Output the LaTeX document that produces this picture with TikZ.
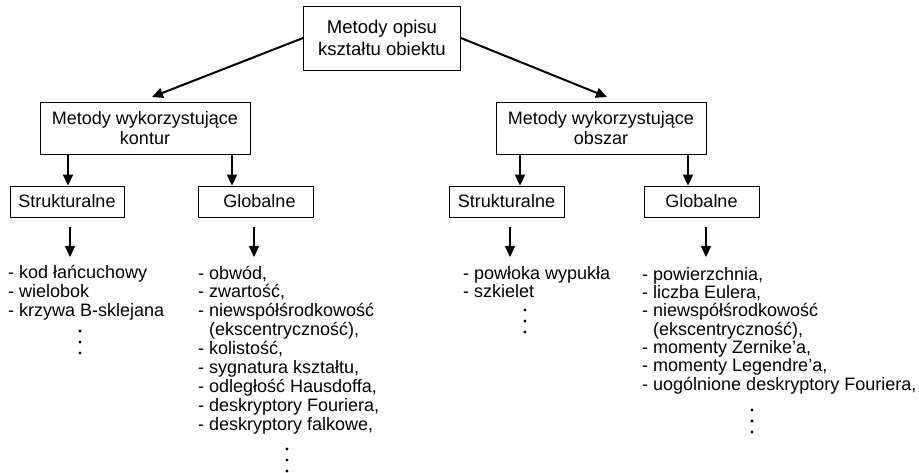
\documentclass[tikz,border=0pt]{standalone}
\usepackage{fontspec}
\setmainfont{Liberation Sans}
\usetikzlibrary{arrows.meta}
\begin{document}
\begin{tikzpicture}[x=1pt,y=-1pt,
  box/.style={draw,line width=0.9pt,align=center,inner sep=0pt,font=\fontsize{18}{20}\selectfont},
  arr/.style={line width=2pt,-{Triangle[width=10pt,length=11pt]}},
  lst/.style={align=left,inner sep=0pt,anchor=base west,font=\fontsize{18}{18.9}\selectfont},
  dot/.style={circle,fill,inner sep=0pt,minimum size=3.2pt}]
\useasboundingbox (0,0) rectangle (919,473);
% top level
\node[box,minimum width=157,minimum height=64,font=\fontsize{18.5}{22}\selectfont] (top) at (382,38) {Metody opisu\\kształtu obiektu};
% second level
\node[box,minimum width=210,minimum height=52] (kontur) at (145,128) {Metody wykorzystujące\\kontur};
\node[box,minimum width=210,minimum height=52] (obszar) at (601,128) {Metody wykorzystujące\\obszar};
% third level
\node[box,minimum width=114,minimum height=31] (ks) at (67,201.5) {Strukturalne};
\node[box,minimum width=115,minimum height=31] (kg) at (255.5,201.5) {\hspace{8pt}Globalne};
\node[box,minimum width=115,minimum height=31] (os) at (506.5,201.5) {Strukturalne};
\node[box,minimum width=115,minimum height=31] (og) at (701.5,201.5) {Globalne};
% connectors between levels
\coordinate (kin) at (152,97);
\coordinate (oin) at (607,97);
\draw[arr] (top.west) -- (kin);
\draw[arr] (top.east) -- (oin);
\draw[arr] (kontur.south -| 68,0) -- (ks.north -| 68,0);
\draw[arr] (kontur.south -| 232,0) -- (kg.north -| 232,0);
\draw[arr] (obszar.south -| 520,0) -- (os.north -| 520,0);
\draw[arr] (obszar.south -| 688,0) -- (og.north -| 688,0);
% lists of descriptors (anchored at the baseline of the last line)
\node[lst] (l1) at (8,316.8) {- kod łańcuchowy\\- wielobok\\- krzywa B-sklejana};
\node[lst] (l2) at (198,430.2) {- obwód,\\- zwartość,\\- niewspółśrodkowość\\\phantom{-}~(ekscentryczność),\\- kolistość,\\- sygnatura kształtu,\\- odległość Hausdoffa,\\- deskryptory Fouriera,\\- deskryptory falkowe,};
\node[lst] (l3) at (463,297.9) {- powłoka wypukła\\- szkielet};
\node[lst,font=\fontsize{18}{18.3}\selectfont] (l4) at (642,390) {- powierzchnia,\\- liczba Eulera,\\- niewspółśrodkowość\\\phantom{-}~(ekscentryczność),\\- momenty Zernike’a,\\- momenty Legendre’a,\\- uogólnione deskryptory Fouriera,};
% arrows from the category boxes to their lists
\coordinate (c1) at (70,227); \coordinate (c1e) at (70,257);
\coordinate (c2) at (254,227); \coordinate (c2e) at (254,257);
\coordinate (c3) at (510,227); \coordinate (c3e) at (510,257);
\coordinate (c4) at (706,227); \coordinate (c4e) at (706,257);
\draw[arr] (c1) -- (c1e);
\draw[arr] (c2) -- (c2e);
\draw[arr] (c3) -- (c3e);
\draw[arr] (c4) -- (c4e);
% continuation dots
\foreach \y in {331,342,353} \node[dot] at (80,\y) {};
\foreach \y in {449,460,471} \node[dot] at (287,\y) {};
\foreach \y in {310,321,332} \node[dot] at (525,\y) {};
\foreach \y in {410,421,432} \node[dot] at (752,\y) {};
\end{tikzpicture}
\end{document}
